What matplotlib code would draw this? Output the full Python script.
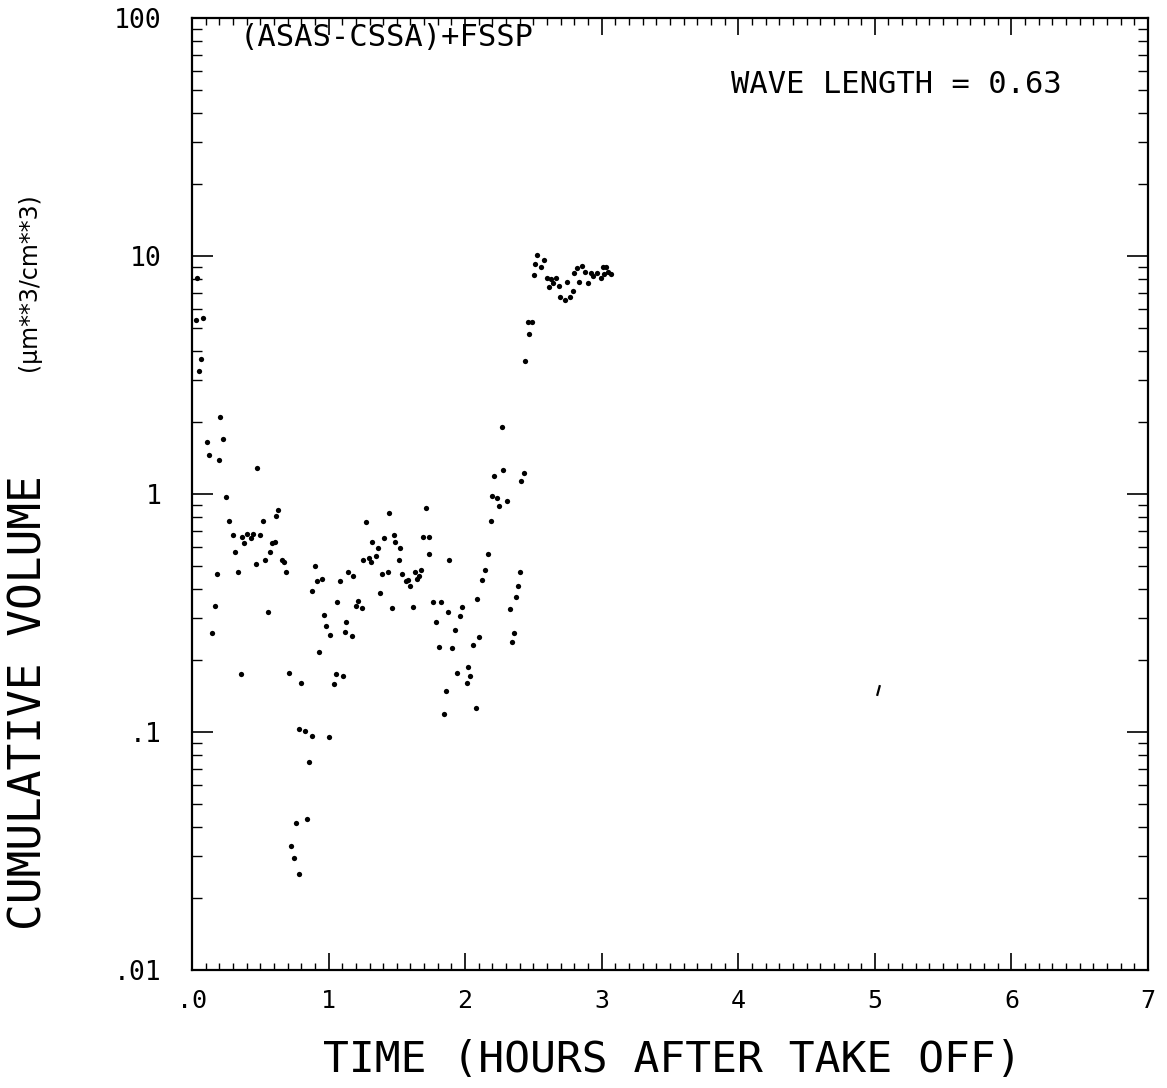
import numpy as np
import matplotlib
matplotlib.use('Agg')
import matplotlib.pyplot as plt
from matplotlib.ticker import MultipleLocator, LogLocator, FixedLocator, NullFormatter

# time (hours after take off) and cumulative volume (um**3/cm**3)
hours = [0.027, 0.078, 0.037, 0.066, 0.053, 0.205, 0.225, 0.108, 0.124, 0.195,
         0.478, 0.247, 0.273, 0.520, 0.613, 0.627, 0.298, 0.364, 0.383, 0.400,
         0.432, 0.449, 0.498, 0.317, 0.335, 0.181, 0.471, 0.537, 0.569, 0.583,
         0.605, 0.657, 0.671, 0.688, 0.168, 0.149, 0.559, 0.359, 0.710, 0.800,
         0.783, 0.827, 0.876, 1.005, 0.857, 0.844, 0.761, 0.725, 0.749, 0.783,
         0.900, 0.913, 0.952, 0.881, 0.966, 0.979, 1.012, 0.932, 1.059, 1.083,
         1.144, 1.181, 1.130, 1.120, 1.171, 1.217, 1.201, 1.245, 1.052, 1.037,
         1.103, 1.272, 1.252, 1.294, 1.308, 1.318, 1.345, 1.359, 1.406, 1.440,
         1.389, 1.435, 1.376, 1.466, 1.477, 1.488, 1.525, 1.513, 1.540, 1.567,
         1.583, 1.596, 1.616, 1.630, 1.647, 1.664, 1.679, 1.691, 1.711, 1.737,
         1.737, 1.884, 1.762, 1.821, 1.874, 1.788, 1.977, 1.960, 2.089, 1.923,
         2.103, 2.057, 1.903, 1.806, 2.020, 1.940, 2.035, 2.013, 1.857, 2.077,
         1.843, 2.169, 2.145, 2.121, 2.187, 2.198, 2.233, 2.304, 2.247, 2.267,
         2.279, 2.213, 2.411, 2.433, 2.403, 2.384, 2.370, 2.326, 2.357, 2.340,
         2.438, 2.458, 2.487, 2.469, 2.528, 2.579, 2.513, 2.557, 2.501, 2.597,
         2.628, 2.665, 2.616, 2.641, 2.687, 2.747, 2.787, 2.694, 2.733, 2.767,
         2.799, 2.816, 2.853, 2.833, 2.877, 2.901, 2.921, 2.938, 2.963, 2.992,
         3.007, 3.031, 3.016, 3.048, 3.067]
volume = [5.4, 5.5, 8.1, 3.7, 3.3, 2.11, 1.70, 1.66, 1.46, 1.39,
          1.28, 0.97, 0.77, 0.77, 0.81, 0.86, 0.67, 0.66, 0.62, 0.68,
          0.65, 0.68, 0.67, 0.57, 0.47, 0.46, 0.51, 0.53, 0.57, 0.62,
          0.63, 0.53, 0.52, 0.47, 0.337, 0.261, 0.319, 0.175, 0.177, 0.161,
          0.103, 0.101, 0.096, 0.095, 0.075, 0.043, 0.0415, 0.0332, 0.0296, 0.0254,
          0.50, 0.43, 0.44, 0.39, 0.31, 0.28, 0.255, 0.217, 0.353, 0.43,
          0.47, 0.45, 0.29, 0.263, 0.254, 0.356, 0.338, 0.331, 0.175, 0.159,
          0.171, 0.76, 0.53, 0.54, 0.52, 0.63, 0.55, 0.59, 0.65, 0.83,
          0.46, 0.47, 0.385, 0.332, 0.67, 0.63, 0.59, 0.53, 0.46, 0.43,
          0.435, 0.41, 0.335, 0.47, 0.44, 0.45, 0.48, 0.66, 0.87, 0.56,
          0.66, 0.53, 0.35, 0.35, 0.32, 0.29, 0.334, 0.308, 0.363, 0.268,
          0.251, 0.233, 0.225, 0.227, 0.188, 0.177, 0.171, 0.160, 0.148, 0.126,
          0.119, 0.56, 0.48, 0.435, 0.77, 0.98, 0.96, 0.93, 0.89, 1.91,
          1.26, 1.19, 1.13, 1.22, 0.47, 0.41, 0.37, 0.329, 0.261, 0.238,
          3.63, 5.3, 5.3, 4.69, 10.1, 9.6, 9.25, 9.0, 8.3, 8.1,
          8.0, 8.05, 7.4, 7.7, 7.5, 7.8, 7.15, 6.7, 6.5, 6.7,
          8.5, 8.9, 9.1, 7.8, 8.6, 7.7, 8.5, 8.2, 8.5, 8.1,
          8.95, 9.0, 8.4, 8.6, 8.4]

# lone mark near 5 hours
stray_hours = [5.02]
stray_volume = [0.15]

xticks = [0, 1, 2, 3, 4, 5, 6, 7]
xticklabels = ['.0', '1', '2', '3', '4', '5', '6', '7']
yticks = [0.01, 0.1, 1, 10, 100]
yticklabels = ['.01', '.1', '1', '10', '100']

mono = 'DejaVu Sans Mono'

fig = plt.figure(figsize=(11.67, 10.88), dpi=100)
ax = fig.add_axes([0.1645, 0.1085, 0.8192, 0.875])

ax.plot(hours, volume, 'o', color='black', markersize=3.8, markeredgewidth=0)
ax.plot(stray_hours, stray_volume, marker=(2, 0, -15), color='black',
        markersize=8, markeredgewidth=1.6, linestyle='none')

ax.set_yscale('log')
ax.set_xlim(0, 7)
ax.set_ylim(0.01, 100)

ax.xaxis.set_major_locator(FixedLocator(xticks))
ax.set_xticklabels(xticklabels, family=mono, fontsize=18)
ax.xaxis.set_minor_locator(MultipleLocator(0.1))
ax.yaxis.set_major_locator(FixedLocator(yticks))
ax.set_yticklabels(yticklabels, family=mono, fontsize=19)
ax.yaxis.set_minor_locator(LogLocator(base=10, subs=np.arange(2, 10)))
ax.yaxis.set_minor_formatter(NullFormatter())

ax.tick_params(axis='x', which='major', direction='in', top=True, length=12, width=1.2, pad=14)
ax.tick_params(axis='x', which='minor', direction='in', top=True, length=5, width=1.0)
ax.tick_params(axis='y', which='major', direction='in', right=True, length=15, width=1.2, pad=22)
ax.tick_params(axis='y', which='minor', direction='in', right=True, length=7, width=1.0)
for s in ax.spines.values():
    s.set_linewidth(1.6)

ax.text(0.05, 0.995, '(ASAS-CSSA)+FSSP', transform=ax.transAxes, family=mono,
        fontsize=22, va='top', ha='left')
ax.text(0.91, 0.93, 'WAVE LENGTH = 0.63', transform=ax.transAxes, family=mono,
        fontsize=22, va='center', ha='right')

fig.text(0.576, 0.026, 'TIME (HOURS AFTER TAKE OFF)', family=mono, fontsize=31,
         ha='center', va='center')
fig.text(0.025, 0.354, 'CUMULATIVE VOLUME', family=mono, fontsize=32,
         rotation=90, ha='center', va='center')
fig.text(0.025, 0.741, '(µm**3/cm**3)', family='DejaVu Sans', fontsize=17,
         rotation=90, ha='center', va='center')

fig.savefig('out.png', dpi=100)
